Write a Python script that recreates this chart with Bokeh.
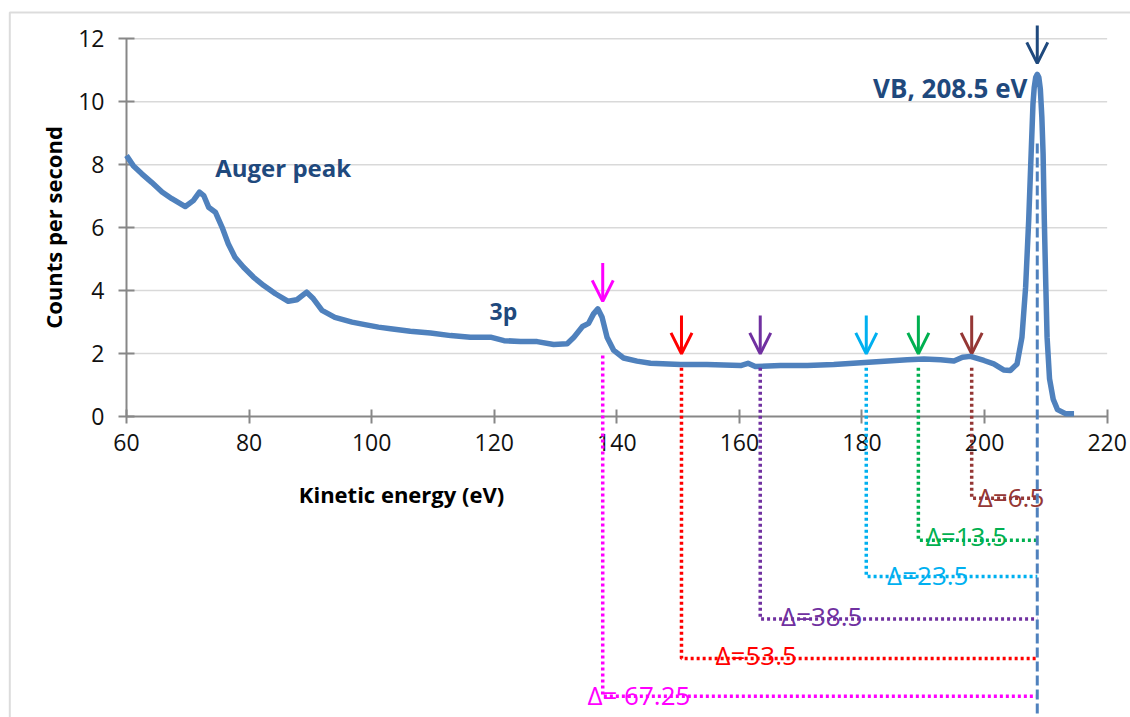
import math
from bokeh.plotting import figure
from bokeh.models import Range1d, FixedTicker, Label, Arrow, OpenHead, BoxAnnotation
from bokeh.embed import file_html
from bokeh.resources import INLINE

# ---------------- data ----------------
energy = [60.0, 61.1, 62.5, 64.1, 65.8, 67.4, 69.6, 70.9, 71.9, 72.6, 73.4, 74.5,
          75.6, 76.6, 77.7, 79.1, 80.7, 82.4, 84.3, 86.4, 87.8, 89.4, 90.5, 91.9,
          94.0, 96.8, 98.9, 101.1, 103.1, 106.3, 109.6, 112.9, 116.1, 119.4, 121.6,
          124.3, 127.0, 129.7, 131.9, 133.0, 134.4, 135.4, 136.2, 136.9, 137.6,
          138.4, 139.5, 141.1, 143.3, 145.5, 150.4, 154.7, 160.2, 161.4, 162.6,
          166.7, 171.1, 175.4, 179.2, 183.0, 187.4, 190.1, 192.8, 195.0, 196.4,
          197.7, 199.9, 201.5, 203.1, 204.2, 205.3, 206.1, 206.7, 207.2, 207.6,
          207.9, 208.1, 208.35, 208.6, 208.85, 209.1, 209.35, 209.55, 209.75, 210.0,
          210.2, 210.6, 211.2, 211.9, 213.2, 214.6]
counts = [8.29, 7.97, 7.71, 7.44, 7.13, 6.92, 6.67, 6.86, 7.13, 7.02, 6.65, 6.49,
          6.01, 5.49, 5.06, 4.74, 4.43, 4.16, 3.90, 3.66, 3.71, 3.95, 3.74, 3.37,
          3.15, 3.00, 2.92, 2.84, 2.79, 2.71, 2.65, 2.57, 2.52, 2.52, 2.41,
          2.38, 2.38, 2.29, 2.31, 2.52, 2.86, 2.96, 3.26, 3.42, 3.15,
          2.52, 2.10, 1.86, 1.76, 1.69, 1.65, 1.65, 1.62, 1.69, 1.59,
          1.62, 1.62, 1.65, 1.70, 1.75, 1.80, 1.83, 1.80, 1.76, 1.88,
          1.91, 1.78, 1.67, 1.48, 1.46, 1.67, 2.52, 4.11, 6.23, 8.35,
          9.93, 10.45, 10.78, 10.87, 10.78, 10.40, 9.50, 8.35, 6.23, 4.11,
          2.52, 1.20, 0.55, 0.22, 0.09, 0.09]

x_ticks = [60, 80, 100, 120, 140, 160, 180, 200, 220]
y_ticks = [0, 2, 4, 6, 8, 10, 12]

marker_energy = [137.7, 150.55, 163.4, 180.7, 189.2, 197.9]
marker_colors = ["#FF00FF", "#FF0000", "#7030A0", "#00B0F0", "#00B050", "#953735"]
marker_labels = ["\u0394= 67.25", "\u0394=53.5", "\u0394=38.5", "\u0394=23.5", "\u0394=13.5", "\u0394=6.5"]
arrow_top = [4.88, 3.21, 3.21, 3.21, 3.21, 3.21]
arrow_tip = [3.66, 1.99, 1.99, 1.99, 1.99, 1.99]
drop_top = [1.94, 1.55, 1.55, 1.55, 1.55, 1.55]
connector_level = [-8.89, -7.69, -6.43, -5.08, -3.93, -2.60]
label_x = [135.2, 156.1, 166.8, 184.1, 190.4, 198.9]
label_y = [-8.86, -7.59, -6.35, -5.02, -3.81, -2.57]

vb_energy = 208.6
vb_arrow_top = 12.42
vb_arrow_tip = 11.22
vb_dash_top = 8.67

# ---------------- geometry of the canvas ----------------
W, H = 1130, 717
PX_X0, PX_PER_X = 126.0, 6.129      # pixel of x=60, pixels per eV
PX_Y0, PX_PER_Y = 416.0, 31.475     # pixel of y=0, pixels per count

X_START = 60 - PX_X0 / PX_PER_X
X_END = 60 + (W - PX_X0) / PX_PER_X
Y_END = PX_Y0 / PX_PER_Y
Y_START = -(H - PX_Y0) / PX_PER_Y

def dx(px):
    return 60 + (px - PX_X0) / PX_PER_X

def dy(py):
    return (PX_Y0 - py) / PX_PER_Y

p = figure(width=W, height=H, x_range=Range1d(X_START, X_END), y_range=Range1d(Y_START, Y_END),
           output_backend="svg", toolbar_location=None,
           min_border=0, min_border_left=0, min_border_right=0, min_border_top=0, min_border_bottom=0)
p.outline_line_color = None
p.background_fill_color = "white"
p.border_fill_color = "white"
p.xgrid.visible = False
p.ygrid.visible = False

AXIS_COLOR = "#878787"
FONT = "Open Sans"

xa = p.xaxis[0]
xa.fixed_location = 0
xa.bounds = (60, 220)
xa.ticker = FixedTicker(ticks=x_ticks)
ya = p.yaxis[0]
ya.fixed_location = 60
ya.bounds = (0, 12)
ya.ticker = FixedTicker(ticks=y_ticks)
for ax in (xa, ya):
    ax.axis_line_color = AXIS_COLOR
    ax.axis_line_width = 2
    ax.major_tick_line_color = AXIS_COLOR
    ax.major_tick_line_width = 2
    ax.minor_tick_line_color = None
    ax.major_label_text_font = FONT
    ax.major_label_text_font_size = "23px"
    ax.major_label_text_color = "#111111"
xa.major_tick_in = 7
xa.major_tick_out = 7
xa.major_label_standoff = 10
ya.major_tick_in = 8
ya.major_tick_out = 8
ya.major_label_standoff = 14

# horizontal gridlines (only over the data area)
grid_y = [t for t in y_ticks if t > 0]
p.segment(x0=[x_ticks[0]] * len(grid_y), x1=[x_ticks[-1]] * len(grid_y), y0=grid_y, y1=grid_y,
          line_color="#D9D9D9", line_width=1.5, level="underlay")

# outer chart border
p.add_layout(BoxAnnotation(left=dx(9.3), top=dy(12), right=X_END + 20, bottom=Y_START - 20,
                           fill_alpha=0, fill_color=None, line_color="#8C8C8C", line_width=2))

# spectrum
p.line(energy, counts, line_color="#4F81BD", line_width=5.5, line_join="round", level="overlay")

# dotted connectors
for mx, top, lev, col in zip(marker_energy, drop_top, connector_level, marker_colors):
    p.line([mx, mx, vb_energy], [top, lev, lev], line_color=col, line_width=3.5,
           line_dash="3 3", level="overlay")

# VB dashed drop line
p.line([vb_energy, vb_energy], [vb_dash_top, Y_START], line_color="#4F81BD", line_width=3,
       line_dash="10 4", level="overlay")

# arrows
for mx, t0, t1, col in zip(marker_energy, arrow_top, arrow_tip, marker_colors):
    p.add_layout(Arrow(x_start=mx, y_start=t0, x_end=mx, y_end=t1, line_color=col, line_width=3,
                       end=OpenHead(size=21, line_color=col, line_width=3)))
p.add_layout(Arrow(x_start=vb_energy, y_start=vb_arrow_top, x_end=vb_energy, y_end=vb_arrow_tip,
                   line_color="#1F497D", line_width=3,
                   end=OpenHead(size=21, line_color="#1F497D", line_width=3)))

# delta labels
for lx, ly, txt, col in zip(label_x, label_y, marker_labels, marker_colors):
    p.add_layout(Label(x=lx, y=ly, text=txt, text_color=col, text_font=FONT,
                       text_font_size="26px", text_baseline="alphabetic", text_align="left"))

# annotations
DARK = "#1F497D"
p.add_layout(Label(x=dx(214.7), y=dy(166.7), text="Auger peak", text_color=DARK, text_font=FONT,
                   text_font_style="bold", text_font_size="24px", text_baseline="alphabetic"))
p.add_layout(Label(x=dx(489), y=dy(310), text="3p", text_color=DARK, text_font=FONT,
                   text_font_style="bold", text_font_size="23px", text_baseline="alphabetic"))
p.add_layout(Label(x=dx(1027), y=dy(87.3), text="VB, 208.5 eV", text_color=DARK, text_font=FONT,
                   text_font_style="bold", text_font_size="26px", text_baseline="alphabetic",
                   text_align="right"))

# axis titles
p.add_layout(Label(x=dx(401), y=dy(493), text="Kinetic energy (eV)", text_color="black",
                   text_font=FONT, text_font_style="bold", text_font_size="22px",
                   text_baseline="middle", text_align="center"))
p.add_layout(Label(x=dx(52), y=dy(227), text="Counts per second", text_color="black",
                   text_font=FONT, text_font_style="bold", text_font_size="22px",
                   text_baseline="middle", text_align="center", angle=math.pi / 2))

open("out.html", "w").write(file_html(p, INLINE))
